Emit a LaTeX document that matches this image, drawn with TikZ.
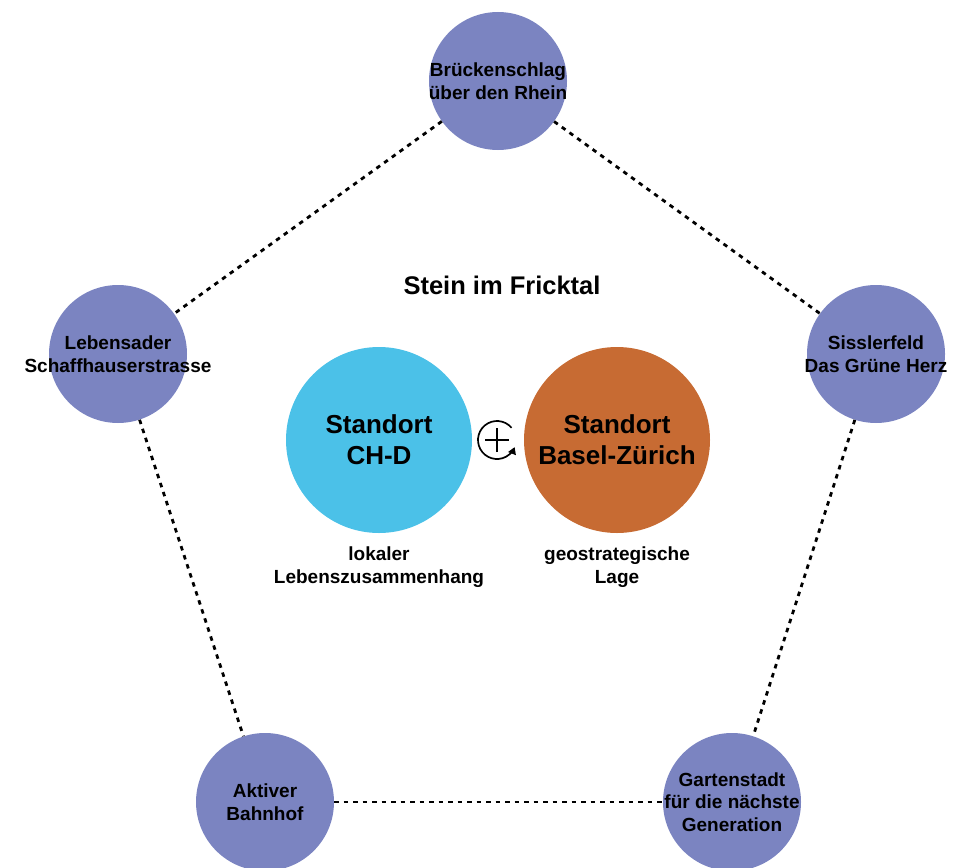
\documentclass[tikz,border=0pt]{standalone}
\usepackage{fontspec}
\setmainfont{Liberation Sans}
\usetikzlibrary{arrows.meta}
\definecolor{theme}{HTML}{7B84C1}
\definecolor{chblue}{HTML}{4BC1E8}
\definecolor{bzorange}{HTML}{C76B33}
\tikzset{
  topic/.style={circle, fill=theme, minimum size=138pt, inner sep=0pt},
  topictext/.style={align=center, inner sep=0pt,
    font=\bfseries\fontsize{19}{22.5}\selectfont},
  site/.style={circle, minimum size=186pt, inner sep=0pt, align=center,
    font=\bfseries\fontsize{26}{31}\selectfont},
  caption/.style={align=center, font=\bfseries\fontsize{19}{23}\selectfont},
  link/.style={draw=black, line width=2.8pt, dash pattern=on 4.5pt off 5pt}
}
\begin{document}
\begin{tikzpicture}[x=1pt, y=-1pt]
\useasboundingbox (0,0) rectangle (963,867);
% outer ring of topics
\node[topic] (bridge) at (498,81) {};
\node[topic] (artery) at (118,354) {};
\node[topic] (field)  at (876,354) {};
\node[topic] (station) at (265,802) {};
\node[topic] (garden) at (732,802) {};
\node[topictext] at (bridge) {Brückenschlag\\über den Rhein};
\node[topictext] at (artery) {Lebensader\\Schaffhauserstrasse};
\node[topictext] at (field) {Sisslerfeld\\Das Grüne Herz};
\node[topictext] at (station) {Aktiver\\Bahnhof};
\node[topictext] at (garden) {Gartenstadt\\für die nächste\\Generation};
% dashed pentagon
\draw[link] (bridge) -- (artery);
\draw[link] (bridge) -- (field);
\draw[link] (artery) -- (station);
\draw[link] (field) -- (garden);
\draw[link] (station) -- (garden);
% centre
\node[font=\bfseries\fontsize{25.5}{30}\selectfont] (title) at (502,285) {Stein im Fricktal};
\node[site, fill=chblue] (ch) at (379,440) {Standort\\CH-D};
\node[site, fill=bzorange] (bz) at (617,440) {Standort\\Basel-Zürich};
\node[caption] (chcap) at (379,567) {lokaler\\Lebenszusammenhang};
\node[caption] (bzcap) at (617,567) {geostrategische\\Lage};
% circled plus with turning arrow
\coordinate (sym) at (497,440);
\draw[line width=1.7pt, -{Triangle[length=7pt,width=8pt]}]
  ([shift={(-40:19)}]sym) arc[start angle=-40, end angle=-338, radius=19];
\draw[line width=1.7pt] ([xshift=-12pt]sym) -- ([xshift=12pt]sym)
  ([yshift=-12pt]sym) -- ([yshift=12pt]sym);
\end{tikzpicture}
\end{document}
